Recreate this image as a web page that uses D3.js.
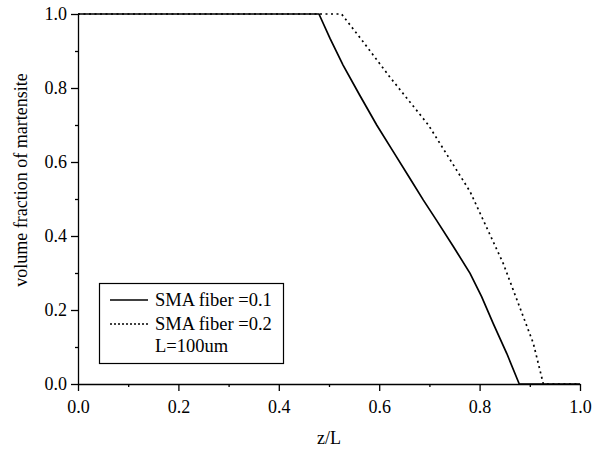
<!DOCTYPE html>
<html>
<head>
<meta charset="utf-8">
<script src="https://cdn.jsdelivr.net/npm/d3@7"></script>
<style>
  body { margin: 0; background: white; }
  svg text { font-family: "Liberation Serif", "Times New Roman", serif; fill: black; }
</style>
</head>
<body>
<script>
var w = 593, h = 451;

// DATA
var zFiber1 = [0, 0.48, 0.502, 0.528, 0.561, 0.595, 0.628, 0.661, 0.688, 0.714, 0.748, 0.781, 0.804, 0.827, 0.854, 0.879, 1.0];
var vFiber1 = [1, 1, 0.934, 0.862, 0.781, 0.700, 0.628, 0.556, 0.497, 0.443, 0.371, 0.299, 0.236, 0.164, 0.083, 0, 0];
var zFiber2 = [0, 0.525, 0.568, 0.621, 0.698, 0.781, 0.847, 0.907, 0.927, 1.0];
var vFiber2 = [1, 1, 0.925, 0.830, 0.700, 0.520, 0.326, 0.110, 0, 0];
var seriesNames = ["SMA fiber =0.1", "SMA fiber =0.2"];
var noteText = "L=100um";
var xTicks = [0, 0.2, 0.4, 0.6, 0.8, 1.0];
var yTicks = [0, 0.2, 0.4, 0.6, 0.8, 1.0];
var minorTicks = [0.1, 0.3, 0.5, 0.7, 0.9];

var svg = d3.select("body").append("svg")
  .attr("width", w)
  .attr("height", h);

var margin = {left: 78, right: 13, top: 14, bottom: 67};

var x = d3.scaleLinear().domain([0, 1]).range([margin.left, w - margin.right]);
var y = d3.scaleLinear().domain([0, 1]).range([h - margin.bottom, margin.top]);

// AXES (outward ticks, minor ticks drawn separately)
var xAxis = svg.append("g")
  .attr("transform", "translate(0," + y(0) + ")")
  .call(d3.axisBottom(x).tickValues(xTicks).tickFormat(d3.format(".1f")).tickSize(7).tickSizeOuter(0));
svg.append("g")
  .attr("transform", "translate(0," + y(0) + ")")
  .call(d3.axisBottom(x).tickValues(minorTicks).tickFormat("").tickSize(3).tickSizeOuter(0))
  .select(".domain").remove();

var yAxis = svg.append("g")
  .attr("transform", "translate(" + x(0) + ",0)")
  .call(d3.axisLeft(y).tickValues(yTicks).tickFormat(d3.format(".1f")).tickSize(7).tickSizeOuter(0));
svg.append("g")
  .attr("transform", "translate(" + x(0) + ",0)")
  .call(d3.axisLeft(y).tickValues(minorTicks).tickFormat("").tickSize(3).tickSizeOuter(0))
  .select(".domain").remove();

svg.selectAll(".domain, .tick line")
  .attr("stroke", "black")
  .attr("stroke-width", 1.3);

xAxis.selectAll("text")
  .style("font-size", "18px")
  .attr("y", 16)
  .attr("dy", "0.71em");
yAxis.selectAll("text")
  .style("font-size", "18px")
  .attr("x", -11);

// AXIS LABELS
svg.append("text")
  .attr("x", x(0.5))
  .attr("y", 444)
  .attr("text-anchor", "middle")
  .style("font-size", "18px")
  .text("z/L");

svg.append("text")
  .attr("transform", "translate(26.5,180) rotate(-90)")
  .attr("text-anchor", "middle")
  .style("font-size", "18px")
  .text("volume fraction of martensite");

// LINES
var line = d3.line()
  .x(function(d) { return x(d[0]); })
  .y(function(d) { return y(d[1]); });

var s1 = d3.zip(zFiber1, vFiber1);
var s2 = d3.zip(zFiber2, vFiber2);

svg.append("path")
  .datum(s2)
  .attr("d", line.curve(d3.curveLinear))
  .attr("fill", "none")
  .attr("stroke", "black")
  .attr("stroke-width", 1.7)
  .attr("stroke-dasharray", "2,3.5");

svg.append("path")
  .datum(s1)
  .attr("d", line)
  .attr("fill", "none")
  .attr("stroke", "black")
  .attr("stroke-width", 1.7);

// LEGEND
var lg = svg.append("g");
lg.append("rect")
  .attr("x", 99.5).attr("y", 283.5)
  .attr("width", 184).attr("height", 80)
  .attr("fill", "white")
  .attr("stroke", "black")
  .attr("stroke-width", 1.2);

var rows = [300, 324];
seriesNames.forEach(function(name, i) {
  lg.append("line")
    .attr("x1", 110).attr("x2", 148)
    .attr("y1", rows[i]).attr("y2", rows[i])
    .attr("stroke", "black")
    .attr("stroke-width", 1.6)
    .attr("stroke-dasharray", i === 1 ? "2,2" : null);
  lg.append("text")
    .attr("x", 155).attr("y", rows[i] + 6)
    .style("font-size", "18.5px")
    .text(name);
});
lg.append("text")
  .attr("x", 155).attr("y", 352)
  .style("font-size", "18.5px")
  .text(noteText);
</script>
</body>
</html>
